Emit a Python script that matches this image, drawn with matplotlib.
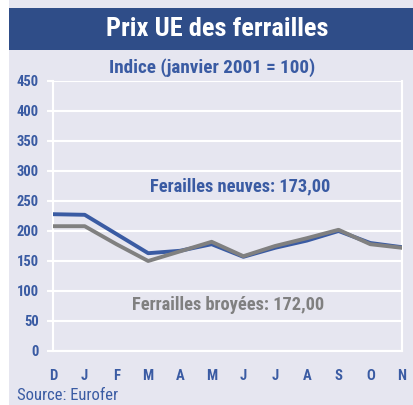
import numpy as np
import matplotlib
matplotlib.use('Agg')
from matplotlib import pyplot as plt
from matplotlib.patches import Rectangle

MONTHS = ['D', 'J', 'F', 'M', 'A', 'M', 'J', 'J', 'A', 'S', 'O', 'N']
NEUVES = [228, 227, 195, 163, 167, 178, 157, 172, 184, 200, 180, 173]
BROYEES = [208, 208, 178, 150, 166, 182, 158, 175, 188, 202, 178, 172]
Y_TICKS = [0, 50, 100, 150, 200, 250, 300, 350, 400, 450]

BG = '#e6e6f0'
BLUE = '#3a5ba3'
BAND = '#2f4d88'
GREY = '#808080'
FONT = ['Roboto Condensed', 'Archivo Narrow', 'DejaVu Sans']

W, H = 414, 405


def fx(px):
    return px / W


def fy(py):
    return 1 - py / H


fig = plt.figure(figsize=(W / 100, H / 100), dpi=100)
fig.patch.set_facecolor('white')

# background panel and title band
bg = fig.add_axes([0, 0, 1, 1], zorder=-10)
bg.set_xlim(0, W)
bg.set_ylim(H, 0)
bg.axis('off')
bg.add_patch(Rectangle((9, 0), W - 9, H, facecolor=BG, edgecolor='none'))
bg.add_patch(Rectangle((9, 8), W - 9, 42, facecolor=BAND, edgecolor='none'))
bg.text(217, 29, 'Prix UE des ferrailles', color='white', fontsize=19, fontweight='bold',
        family=FONT, ha='center', va='center')
bg.text(212, 68, 'Indice (janvier 2001 = 100)', color=BLUE, fontsize=13.8, fontweight='bold',
        family=FONT, ha='center', va='center')
bg.text(17, 396, 'Source: Eurofer', color=BLUE, fontsize=12, family=FONT,
        ha='left', va='center')

ax = fig.add_axes([fx(53), fy(351), fx(402) - fx(53), fy(81) - fy(351)])
ax.set_facecolor(BG)
x = np.arange(len(MONTHS))
ax.plot(x, NEUVES, color=BLUE, lw=2.8, zorder=3)
ax.plot(x, BROYEES, color=GREY, lw=2.8, zorder=4)
ax.set_xlim(0, len(MONTHS) - 1)
ax.set_ylim(0, 450)
ax.set_yticks(Y_TICKS)
ax.set_xticks(x)
ax.set_xticklabels(MONTHS)
ax.grid(axis='y', color='white', lw=1.5)
ax.set_axisbelow(True)
for side in ['left', 'right', 'bottom']:
    ax.spines[side].set_color('white')
    ax.spines[side].set_linewidth(1.5)
ax.spines['top'].set_visible(False)
ax.tick_params(axis='y', colors='white', length=4, width=1.5, labelcolor=BLUE, pad=6)
ax.tick_params(axis='x', length=0, labelcolor=BLUE, pad=13)
for lab in ax.get_yticklabels() + ax.get_xticklabels():
    lab.set_fontweight('bold')
    lab.set_family(FONT)
    lab.set_fontsize(10.5)

ax.text(5.89, 275, 'Ferailles neuves: 173,00', color=BLUE, fontsize=13.2, fontweight='bold',
        family=FONT, ha='center', va='center')
ax.text(5.52, 77, 'Ferrailles broyées: 172,00', color=GREY, fontsize=13.2, fontweight='bold',
        family=FONT, ha='center', va='center')

fig.savefig('out.png', dpi=100, facecolor=fig.get_facecolor())
